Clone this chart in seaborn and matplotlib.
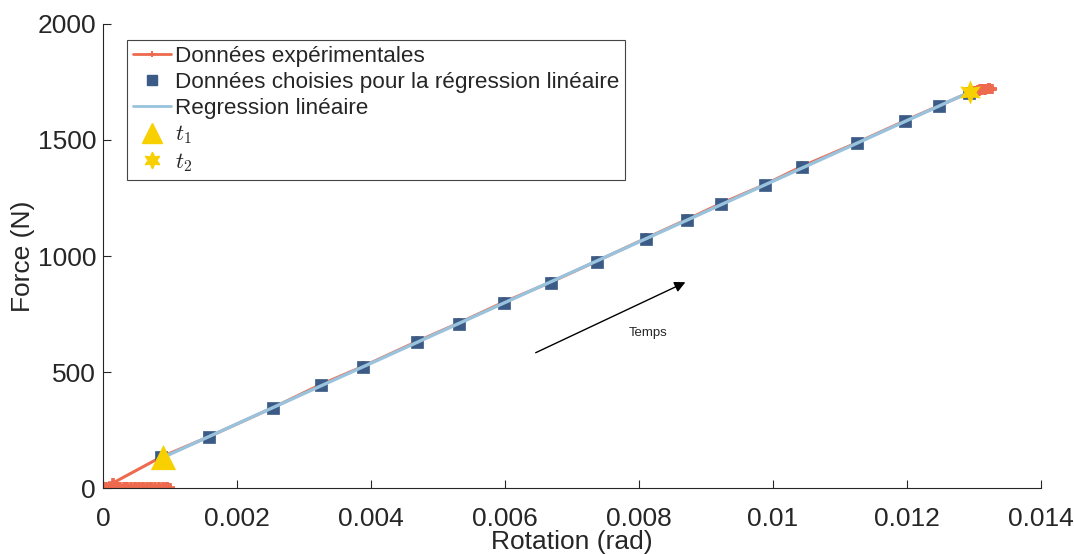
import numpy as np
import matplotlib
matplotlib.use("Agg")
import matplotlib.pyplot as plt
from matplotlib.lines import Line2D
import seaborn as sns

rot_exp = [0.0, 0.00002, 0.00005, 0.00007, 0.0001, 0.00012, 0.00015, 0.00018, 0.0002,
           0.00023, 0.00026, 0.00028, 0.00031, 0.00034, 0.00036, 0.00039, 0.00042, 0.00045,
           0.00048, 0.0005, 0.00053, 0.00056, 0.00059, 0.00062, 0.00065, 0.00068, 0.00071,
           0.00074, 0.00077, 0.0008, 0.00083, 0.00086, 0.00089, 0.00092, 0.00095, 0.00098,
           0.001, 0.00096, 0.0009, 0.00084, 0.00078, 0.00072, 0.00066, 0.0006, 0.00054,
           0.00048, 0.00042, 0.00036, 0.0003, 0.00024, 0.00018, 0.00012, 0.00006, 0.00002,
           0.00015, 0.00087, 0.00158, 0.00254, 0.00325, 0.00388, 0.00469, 0.00531, 0.00598,
           0.00669, 0.00737, 0.0081, 0.00872, 0.00922, 0.00988, 0.01043, 0.01125, 0.01197,
           0.01248, 0.01293, 0.013, 0.01303, 0.01306, 0.01309, 0.01312, 0.01315, 0.01318,
           0.01322, 0.01325, 0.01321, 0.01316, 0.01311, 0.01307, 0.0131, 0.01314, 0.01319,
           0.01323, 0.01327]
force_exp = [2, -3, 4, -6, 3, -4, 5, -3, 2, -5, 4, -3, 6, -4, 2, -5, 4, -3, 5, -2, 3, -5,
             4, -6, 3, -2, 5, -4, 3, -5, 2, -3, 4, -2, 3, -4, 2, 5, -3, 4, -5, 3, -4, 6, -2,
             3, -5, 4, -3, 5, -4, 3, -2, 4,
             22, 134, 221, 347, 446, 524, 632, 711, 801,
             888, 978, 1076, 1158, 1226, 1308, 1386, 1488, 1583,
             1648, 1705, 1710, 1713, 1716, 1718, 1719, 1720, 1721,
             1722, 1721, 1718, 1716, 1714, 1712, 1716, 1718, 1720,
             1722, 1721]

# points kept for the linear regression
rot_sel = [0.000866, 0.001582, 0.002537, 0.003254, 0.00388, 0.004687, 0.005313, 0.005985,
           0.006687, 0.007373, 0.008104, 0.008716, 0.009224, 0.00988, 0.010433, 0.011254,
           0.01197, 0.012478, 0.012925]
force_sel = [134, 220, 345, 444, 521, 629, 707, 797, 884, 974, 1073, 1155, 1224, 1306,
             1384, 1487, 1582, 1647, 1703]

t1 = (0.0009, 133)
t2 = (0.01294, 1707)

c_exp = "#ee6a4f"
c_sel = "#3b5b86"
c_reg = "#99c2dc"
c_t = "#f8d000"

sns.set_style("ticks")
plt.rcParams["font.family"] = ["Liberation Sans", "DejaVu Sans"]
plt.rcParams["mathtext.fontset"] = "cm"

fig = plt.figure(figsize=(10.74, 5.54), dpi=100)
ax = fig.add_axes([0.0959, 0.1191, 0.8734, 0.8376])

sns.lineplot(x=rot_exp, y=force_exp, sort=False, estimator=None, ax=ax, color=c_exp,
             lw=2.2, marker="+", markersize=7, markeredgewidth=2.6, mec=c_exp, zorder=2)

sns.scatterplot(x=rot_sel, y=force_sel, ax=ax, marker="s", s=82, color=c_sel,
                edgecolor=c_sel, linewidth=0.5, zorder=3)

slope, icpt = np.polyfit(rot_sel, force_sel, 1)
x_reg = np.array([min(rot_sel), max(rot_sel)])
sns.lineplot(x=x_reg, y=slope * x_reg + icpt, ax=ax, color=c_reg, lw=2.4, zorder=4)

sns.scatterplot(x=[t1[0]], y=[t1[1]], ax=ax, marker="^", s=330, color=c_t,
                edgecolor=c_t, linewidth=0, zorder=5)
sns.scatterplot(x=[t2[0]], y=[t2[1]], ax=ax, marker=(6, 1, 0), s=300, color=c_t,
                edgecolor=c_t, linewidth=0, zorder=5)

ax.annotate("", xy=(0.00873, 892), xytext=(0.00642, 578),
            arrowprops=dict(arrowstyle="-|>", color="black", lw=1.0,
                            mutation_scale=16))
ax.text(0.00813, 670, "Temps", fontsize=9.5, ha="center", va="center")

ax.set_xlim(0, 0.014)
ax.set_ylim(0, 2000)
ax.set_xticks([0, 0.002, 0.004, 0.006, 0.008, 0.01, 0.012, 0.014])
ax.set_xticklabels(["0", "0.002", "0.004", "0.006", "0.008", "0.01", "0.012", "0.014"])
ax.set_yticks([0, 500, 1000, 1500, 2000])
ax.set_yticklabels(["0", "500", "1000", "1500", "2000"])
ax.tick_params(direction="in", length=6, width=0.8, labelsize=19, colors="#262626",
               labelcolor="#262626")
ax.tick_params(axis="x", pad=14)
ax.tick_params(axis="y", pad=5)
for s in ["top", "right"]:
    ax.spines[s].set_visible(False)
for s in ["left", "bottom"]:
    ax.spines[s].set_color("#262626")
    ax.spines[s].set_linewidth(0.8)
ax.set_xlabel("Rotation (rad)", fontsize=19, color="#262626", labelpad=-1)
ax.set_ylabel("Force (N)", fontsize=19, color="#262626", labelpad=2)

handles = [
    Line2D([], [], color=c_exp, lw=2, marker="+", markersize=5, mew=1.4),
    Line2D([], [], color=c_sel, lw=0, marker="s", markersize=7),
    Line2D([], [], color=c_reg, lw=2),
    Line2D([], [], color=c_t, lw=0, marker="^", markersize=14),
    Line2D([], [], color=c_t, lw=0, marker=(6, 1, 0), markersize=12),
]
labels = ["Données expérimentales", "Données choisies pour la régression linéaire",
          "Regression linéaire", "$t_1$", "$t_2$"]
if ax.get_legend():
    ax.get_legend().remove()
leg = ax.legend(handles, labels, loc="upper left", bbox_to_anchor=(127 / 1074, 1 - 40 / 554),
                bbox_transform=fig.transFigure, borderaxespad=0, fontsize=16.2,
                fancybox=False, framealpha=1, edgecolor="#444444", handlelength=1.7,
                handletextpad=0.2, labelspacing=0.22, borderpad=0.25)
leg.get_frame().set_linewidth(0.8)

fig.savefig("out.png", dpi=100)
